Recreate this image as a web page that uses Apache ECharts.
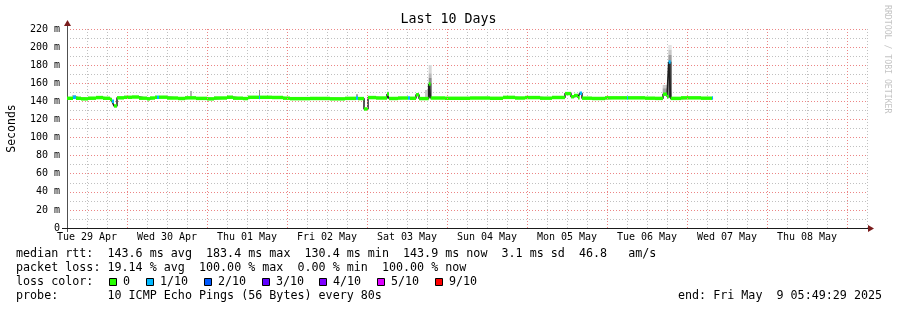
<!DOCTYPE html>
<html><head><meta charset="utf-8">
<script src="https://cdn.jsdelivr.net/npm/echarts@6/dist/echarts.min.js"></script>
<style>html,body{margin:0;padding:0;background:#fff}#c{width:897px;height:310px}</style>
</head><body><div id="c"></div>
<script>
// x values are hours since Tue 29 Apr 2025 00:00
const dayLabels = ['Tue 29 Apr','Wed 30 Apr','Thu 01 May','Fri 02 May','Sat 03 May','Sun 04 May','Mon 05 May','Tue 06 May','Wed 07 May','Thu 08 May'];
const midnightHours = [24,48,72,96,120,144,168,192,216,240];
const yTickValues = [0,20,40,60,80,100,120,140,160,180,200,220];

// median rtt segments (start hour, median ms, lost pings out of 10)
const segStart = [6.0,7.8,8.7,10.2,12.3,14.7,16.8,18.9,19.5,20.1,21.0,23.1,25.5,27.6,30.0,30.9,32.4,33.0,33.6,36.0,
  39.3,41.4,44.7,48.0,50.1,54.0,55.8,58.8,60.3,63.6,63.9,67.5,70.8,72.9,78.9,84.9,89.4,92.7,93.3,95.1,
  96.3,98.7,102.0,102.6,105.3,108.3,108.9,110.7,111.6,114.5,115.1,119.4,126.9,132.9,136.8,140.4,143.4,147.9,151.5,155.4,
  157.2,158.1,159.3,159.8,160.5,163.5,167.4,174.0,174.3,179.4,182.4,184.8,186.0,186.5,187.1,190.2,196.2,199.5];
const segEndHour = 199.8;
const medianMs = [143.4,144.6,143.4,142.8,143.5,144.2,143.4,142.1,140.2,134.9,143.9,144.5,144.8,143.5,142.8,143.7,144.6,144.6,144.6,143.7,
  143.2,143.9,143.3,142.8,143.7,144.6,143.5,143.1,144.5,144.3,144.5,144.3,143.5,143.0,143.2,142.8,143.3,143.7,143.1,131.6,
  144.2,143.7,148.1,143.2,143.7,143.7,143.4,147.3,143.1,159.2,143.7,143.4,143.7,143.4,144.4,143.7,144.2,143.5,144.3,148.6,
  145.1,146.5,143.9,149.0,143.5,143.2,143.9,143.7,143.9,143.5,143.3,147.9,145.1,183.5,143.3,143.9,143.5,143.7];
const lossCount = [0,1,0,0,0,0,0,0,1,0,0,0,0,0,0,0,0,1,0,0,
  0,0,0,0,0,0,0,0,0,1,0,0,0,0,0,0,0,1,0,0,
  0,0,0,0,0,1,0,0,0,0,0,0,0,0,0,0,0,0,0,0,
  0,0,0,1,0,0,0,1,0,0,0,0,0,1,0,0,0,1];

// smoke (ping spread) patches
const smokeFrom = [7.5,42.9,63.6,92.7,102.0,113.4,114.5,114.5,114.5,114.5,184.7,184.7,186.4,186.4,186.4,186.4];
const smokeTo   = [8.7,43.5,63.9,93.3,102.6,114.5,115.4,115.4,115.4,115.4,186.0,186.0,187.4,187.4,187.4,187.4];
const smokeLow  = [144.5,145.5,145.5,145.0,147.0,144.0,171.0,166.0,160.0,144.0,154.5,148.5,196.8,191.3,184.0,144.0];
const smokeHigh = [147.0,151.5,152.6,148.0,150.5,152.6,180.2,171.0,166.0,160.0,158.1,154.5,202.3,196.8,191.3,184.0];
const smokeShade = ['#c8c8c8','#b4b4b4','#8c8c8c','#a0a0a0','#b0b0b0','#c8c8c8','#d8d8d8','#b8b8b8','#8c8c8c','#505050','#d0d0d0','#a8a8a8','#e4e4e4','#c8c8c8','#9c9c9c','#404040'];

const lossColors = {0:'#26ff00',1:'#00b8ff',2:'#0059ff',3:'#5e00ff',4:'#7e00ff',5:'#dd00ff',9:'#ff0000'};
const lossLegendLabels = ['0','1/10','2/10','3/10','4/10','5/10','9/10'];
const lossLegendKeys = [0,1,2,3,4,5,9];

const legendLines = [
  'median rtt:  143.6 ms avg  183.4 ms max  130.4 ms min  143.9 ms now  3.1 ms sd  46.8   am/s',
  'packet loss: 19.14 % avg  100.00 % max  0.00 % min  100.00 % now',
  'loss color:',
  'probe:       10 ICMP Echo Pings (56 Bytes) every 80s'
];
const endLabel = 'end: Fri May  9 05:49:29 2025';

const MONO = 'DejaVu Sans Mono';
const BAND_HALF = 1.9; // ms
const GRID_RED = '#ec8585';
const GRID_GREY = '#c0c0c0';

const bandData = segStart.map((s,i)=>[s, i+1<segStart.length?segStart[i+1]:segEndHour, medianMs[i], lossCount[i]]);
const lineData = segStart.map((s,i)=>[s, medianMs[i]]);
lineData.push([segEndHour, medianMs[medianMs.length-1]]);
const smokeData = smokeFrom.map((f,i)=>[f, smokeTo[i], smokeLow[i], smokeHigh[i], i]);

const chart = echarts.init(document.getElementById('c'), null, {renderer:'canvas'});

const graphics = [];
const legendY = [254,268,282,296];
legendLines.forEach((t,i)=>{
  graphics.push({type:'text', x:16, y:legendY[i], style:{text:t, font:'11.7px "'+MONO+'"', fill:'#000', verticalAlign:'middle', textVerticalAlign:'middle'}});
});
graphics.push({type:'text', x:678, y:296, style:{text:endLabel, font:'11.7px "'+MONO+'"', fill:'#000', verticalAlign:'middle', textVerticalAlign:'middle'}});
const boxX = [109,146,204,262,319,377,435];
lossLegendKeys.forEach((k,i)=>{
  graphics.push({type:'rect', shape:{x:boxX[i]+0.5, y:278.5, width:7, height:7}, style:{fill:lossColors[k], stroke:'#000', lineWidth:1}});
  graphics.push({type:'text', x:boxX[i]+14, y:282, style:{text:lossLegendLabels[i], font:'11.7px "'+MONO+'"', fill:'#000', verticalAlign:'middle', textVerticalAlign:'middle'}});
});
graphics.push({type:'text', x:887, y:5, rotation:-Math.PI/2, style:{text:'RRDTOOL / TOBI OETIKER', font:'8.2px "'+MONO+'"', fill:'#c4c4c4', verticalAlign:'middle', textVerticalAlign:'middle'}});
// axis arrows and small axis overhangs
graphics.push({type:'line', shape:{x1:67.5,y1:29,x2:67.5,y2:24}, style:{stroke:'#505050', lineWidth:1}});
graphics.push({type:'line', shape:{x1:67.5,y1:228,x2:67.5,y2:232}, style:{stroke:'#505050', lineWidth:1}});
graphics.push({type:'line', shape:{x1:62,y1:228.5,x2:67,y2:228.5}, style:{stroke:'#1a1a1a', lineWidth:1}});
graphics.push({type:'polygon', shape:{points:[[64,26],[71,26],[67.5,20]]}, style:{fill:'#7a1c1c'}});
graphics.push({type:'line', shape:{x1:867,y1:228.5,x2:869,y2:228.5}, style:{stroke:'#1a1a1a', lineWidth:1}});
graphics.push({type:'polygon', shape:{points:[[868,225],[868,232],[874,228.5]]}, style:{fill:'#7a1c1c'}});

const option = {
  animation:false,
  backgroundColor:'#ffffff',
  title:{text:'Last 10 Days', left:'center', top:13, padding:0,
    textStyle:{fontFamily:MONO, fontSize:13.3, fontWeight:'normal', color:'#000'}},
  grid:{left:67, right:30, top:29, bottom:82, containLabel:false, outerBoundsMode:'none'},
  xAxis:{type:'value', min:6, max:246, interval:6,
    axisLine:{show:true, onZero:false, lineStyle:{color:'#1a1a1a', width:1}},
    axisTick:{show:false},
    axisLabel:{margin:4, fontFamily:MONO, fontSize:10, color:'#000', hideOverlap:false,
      formatter:(v)=> (Math.round(v)%24===12) ? dayLabels[Math.floor(v/24)] : ''},
    splitLine:{show:true, lineStyle:{color:GRID_GREY, type:[1,2], width:1}}
  },
  yAxis:{type:'value', min:0, max:220, interval:20,
    name:'Seconds', nameLocation:'middle', nameGap:49, nameRotate:90,
    nameTextStyle:{fontFamily:MONO, fontSize:11.5, color:'#000'},
    axisLine:{show:true, lineStyle:{color:'#505050', width:1}},
    axisTick:{show:false},
    axisLabel:{margin:7, fontFamily:MONO, fontSize:10, color:'#000',
      formatter:(v)=> v===0 ? '0' : v+' m'},
    splitLine:{show:true, lineStyle:{color:GRID_RED, type:[1,2], width:1}},
    minorTick:{show:false, splitNumber:2},
    minorSplitLine:{show:true, lineStyle:{color:GRID_GREY, type:[1,2], width:1}}
  },
  series:[
    {type:'custom', name:'smoke', z:2, data:smokeData, encode:{x:[0,1], y:[2,3]},
      renderItem:(params, api)=>{
        const p0 = api.coord([api.value(0), api.value(3)]);
        const p1 = api.coord([api.value(1), api.value(2)]);
        return {type:'rect', shape:{x:p0[0], y:p0[1], width:p1[0]-p0[0], height:p1[1]-p0[1]},
          style:{fill:smokeShade[api.value(4)]}};
      },
      markLine:{silent:true, symbol:['none','none'], label:{show:false}, animation:false,
        lineStyle:{color:GRID_RED, type:[1,2], width:1},
        data:midnightHours.map(h=>({xAxis:h}))}
    },
    {type:'line', name:'median', z:3, step:'end', data:lineData, symbol:'none',
      lineStyle:{color:'#202020', width:1.5}},
    {type:'custom', name:'loss', z:4, data:bandData, encode:{x:[0,1], y:2},
      renderItem:(params, api)=>{
        const p0 = api.coord([api.value(0), api.value(2)+BAND_HALF]);
        const p1 = api.coord([api.value(1), api.value(2)-BAND_HALF]);
        return {type:'rect', shape:{x:p0[0], y:p0[1], width:p1[0]-p0[0], height:p1[1]-p0[1]},
          style:{fill:lossColors[api.value(3)]}};
      }
    }
  ],
  graphic:graphics
};
chart.setOption(option);
</script>
</body></html>
